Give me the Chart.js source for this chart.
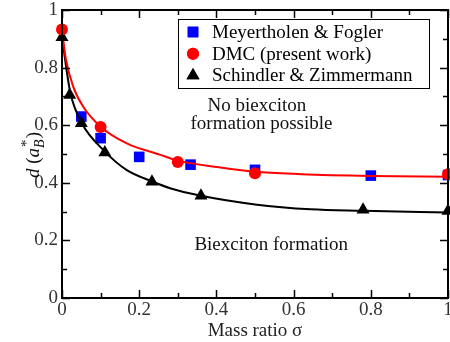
<!DOCTYPE html>
<html>
<head>
<meta charset="utf-8">
<script src="https://cdn.jsdelivr.net/npm/chart.js@4.4.1/dist/chart.umd.min.js"></script>
<style>
  html, body { margin: 0; padding: 0; background: #fff; }
  #wrap { width: 450px; height: 342px; }
</style>
</head>
<body>
<div id="wrap"><canvas id="myChart"></canvas></div>
<script>
// data
const xTicks = [0, 0.2, 0.4, 0.6, 0.8, 1];
const yTicks = [0, 0.2, 0.4, 0.6, 0.8, 1];

const meyerX = [0.05, 0.1, 0.2, 0.333, 0.5, 0.8, 1.0];
const meyerY = [0.63, 0.555, 0.49, 0.463, 0.445, 0.425, 0.427];

const dmcX = [0, 0.1, 0.3, 0.5, 1.0];
const dmcY = [0.932, 0.594, 0.472, 0.433, 0.43];

const schX = [0, 0.02, 0.05, 0.111, 0.233, 0.36, 0.78, 1.0];
const schY = [0.905, 0.705, 0.607, 0.505, 0.404, 0.355, 0.306, 0.302];

// fitted curves
const redFitX = [0, 0.01, 0.029, 0.055, 0.1, 0.168, 0.255, 0.3, 0.4, 0.5, 0.62, 0.8, 1.0];
const redFitY = [0.93, 0.83, 0.734, 0.664, 0.595, 0.537, 0.497, 0.477, 0.455, 0.438, 0.43, 0.424, 0.421];

const blackFitX = [0, 0.012, 0.022, 0.05, 0.11, 0.168, 0.233, 0.28, 0.36, 0.5, 0.644, 0.78, 1.0];
const blackFitY = [0.91, 0.79, 0.71, 0.61, 0.51, 0.444, 0.405, 0.381, 0.355, 0.325, 0.308, 0.303, 0.297];

const legendNames = ["Meyertholen & Fogler", "DMC (present work)", "Schindler & Zimmermann"];

function pts(xs, ys) {
  return xs.map((x, i) => ({x: x, y: ys[i]}));
}

const serif = "'Liberation Serif', 'DejaVu Serif', serif";
const FS = 19;
Chart.defaults.font.family = serif;
Chart.defaults.font.size = FS;

// frame, inward ticks, legend, labels
const decorations = {
  id: 'decorations',
  afterDraw(chart) {
    const ctx = chart.ctx;
    const a = chart.chartArea;
    const xs = chart.scales.x, ys = chart.scales.y;
    ctx.save();
    ctx.strokeStyle = '#000';
    ctx.lineWidth = 1.5;
    for (let i = 0; i <= 10; i++) {
      const v = i / 10;
      const len = (i % 2 === 0) ? 8 : 5;
      const px = Math.round(xs.getPixelForValue(v)) + 0.5;
      const py = Math.round(ys.getPixelForValue(v)) + 0.5;
      ctx.beginPath();
      ctx.moveTo(px, a.bottom); ctx.lineTo(px, a.bottom - len);
      ctx.moveTo(px, a.top); ctx.lineTo(px, a.top + len);
      ctx.moveTo(a.left, py); ctx.lineTo(a.left + len, py);
      ctx.moveTo(a.right, py); ctx.lineTo(a.right - len, py);
      ctx.stroke();
    }
    ctx.lineWidth = 2;
    ctx.strokeRect(a.left, a.top, a.right - a.left, a.bottom - a.top);

    // legend box
    const lx = 178, ly = 19, lw = 251, lh = 69;
    ctx.fillStyle = '#fff';
    ctx.fillRect(lx, ly, lw, lh);
    ctx.lineWidth = 1;
    ctx.strokeRect(lx + 0.5, ly + 0.5, lw, lh);
    const styles = [
      {ds: 4}, {ds: 0}, {ds: 1}
    ];
    ctx.font = FS + 'px ' + serif;
    ctx.textBaseline = 'middle';
    ctx.textAlign = 'left';
    legendNames.forEach((name, i) => {
      const ds = chart.data.datasets[styles[i].ds];
      const cy = 32 + i * 21.7;
      ctx.fillStyle = ds.backgroundColor;
      Chart.helpers.drawPoint(ctx, {
        pointStyle: ds.pointStyle, radius: ds.pointRadius, borderWidth: 0
      }, 193, cy);
      ctx.fill();
      ctx.fillStyle = '#000';
      ctx.fillText(name, 212, cy + 1);
    });

    // region labels
    ctx.textBaseline = 'alphabetic';
    ctx.fillStyle = '#111';
    ctx.fillText('No biexciton', xs.getPixelForValue(0.377), ys.getPixelForValue(0.649));
    ctx.fillText('formation possible', xs.getPixelForValue(0.333), ys.getPixelForValue(0.587));
    ctx.fillText('Biexciton formation', xs.getPixelForValue(0.343), ys.getPixelForValue(0.167));

    // y axis title: d (a*_B)
    ctx.translate(39, 178);
    ctx.rotate(-Math.PI / 2);
    let x = 0;
    const it = 'italic ' + FS + 'px ' + serif;
    const up = FS + 'px ' + serif;
    const small = 'italic 14px ' + serif;
    ctx.font = it; ctx.fillText('d', x, 0); x += ctx.measureText('d').width;
    ctx.font = up; ctx.fillText(' (', x, 0); x += ctx.measureText(' (').width;
    ctx.font = it; ctx.fillText('a', x, 0); x += ctx.measureText('a').width;
    ctx.font = '15px ' + serif; ctx.fillText('*', x + 1, -8);
    ctx.font = small; ctx.fillText('B', x, 5); x += ctx.measureText('B').width + 1;
    ctx.font = up; ctx.fillText(')', x, 0);
    ctx.restore();
  }
};

const ctx = document.getElementById('myChart');

new Chart(ctx, {
  type: 'scatter',
  data: {
    datasets: [
      {
        label: legendNames[1],
        data: pts(dmcX, dmcY),
        pointStyle: 'circle',
        pointRadius: 6,
        backgroundColor: '#ff0000',
        borderWidth: 0
      },
      {
        label: legendNames[2],
        data: pts(schX, schY),
        pointStyle: 'triangle',
        pointRadius: 7.5,
        backgroundColor: '#000000',
        borderWidth: 0
      },
      {
        label: 'red fit',
        data: pts(redFitX, redFitY),
        showLine: true,
        pointRadius: 0,
        borderColor: '#ff0000',
        borderWidth: 2,
        cubicInterpolationMode: 'monotone'
      },
      {
        label: 'black fit',
        data: pts(blackFitX, blackFitY),
        showLine: true,
        pointRadius: 0,
        borderColor: '#000000',
        borderWidth: 2,
        cubicInterpolationMode: 'monotone'
      },
      {
        label: legendNames[0],
        data: pts(meyerX, meyerY),
        pointStyle: 'rect',
        pointRadius: 7.5,
        backgroundColor: '#0000ff',
        borderWidth: 0
      }
    ]
  },
  options: {
    responsive: true,
    maintainAspectRatio: false,
    animation: false,
    clip: false,
    layout: { autoPadding: false, padding: { top: 10, right: 2, left: 0, bottom: 0 } },
    plugins: {
      legend: { display: false },
      tooltip: { enabled: false }
    },
    scales: {
      x: {
        type: 'linear',
        min: 0,
        max: 1,
        grid: { display: false, drawTicks: false },
        border: { display: false },
        afterBuildTicks: (s) => { s.ticks = xTicks.map(v => ({value: v})); },
        ticks: {
          padding: 1,
          color: '#333',
          font: { family: serif, size: FS },
          maxRotation: 0,
          autoSkip: false,
          callback: (v) => String(v)
        },
        title: {
          display: true,
          text: 'Mass ratio σ',
          color: '#222',
          font: { family: serif, size: FS },
          padding: { top: -7, bottom: 0 }
        },
        afterFit: (s) => { s.height = 44; s.paddingLeft = 0; s.paddingRight = 0; }
      },
      y: {
        type: 'linear',
        min: 0,
        max: 1,
        grid: { display: false, drawTicks: false },
        border: { display: false },
        afterBuildTicks: (s) => { s.ticks = yTicks.map(v => ({value: v})); },
        ticks: {
          padding: 4,
          color: '#333',
          font: { family: serif, size: FS },
          autoSkip: false,
          callback: (v) => String(v)
        },
        afterFit: (s) => { s.width = 62; s.paddingTop = 0; s.paddingBottom = 0; }
      }
    }
  },
  plugins: [decorations]
});
</script>
</body>
</html>
